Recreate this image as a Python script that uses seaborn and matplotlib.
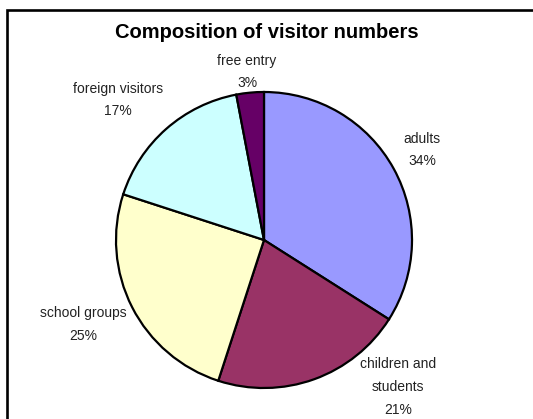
import matplotlib
matplotlib.use("Agg")
import matplotlib.pyplot as plt
import seaborn as sns
from matplotlib.patches import Rectangle

# data
categories = ["adults", "children and\nstudents", "school groups", "foreign visitors", "free entry"]
shares = [34, 21, 25, 17, 3]
colors = ["#9999FF", "#993366", "#FFFFCC", "#CCFFFF", "#660066"]
title = "Composition of visitor numbers"

sns.set_theme(style="white")
plt.rcParams["font.family"] = ["Liberation Sans", "DejaVu Sans"]

W, H = 533, 419
fig = plt.figure(figsize=(W / 100, H / 100), dpi=100)
fig.patch.set_facecolor("white")

# clipped chart frame (only top and left edges visible)
fig.add_artist(Rectangle((7 / W, -0.1), 1.2, 1 - 10.5 / H + 0.1, transform=fig.transFigure,
                         fill=False, edgecolor="black", linewidth=1.9))

cx, cy, R = 264, 240, 148
ax = fig.add_axes([(cx - R) / W, (H - cy - R) / H, 2 * R / W, 2 * R / H])
wedges, _ = ax.pie(shares, colors=colors, startangle=90, counterclock=False,
                   wedgeprops=dict(edgecolor="black", linewidth=1.6))
ax.set_xlim(-1, 1)
ax.set_ylim(-1, 1)
ax.set_aspect("auto")
ax.axis("off")
for w in wedges:
    w.set_clip_on(False)

label_pos = [(1.068, 0.608), (0.905, -0.993), (-1.223, -0.571), (-0.986, 0.946), (-0.115, 1.135)]
for cat, val, (lx, ly) in zip(categories, shares, label_pos):
    ax.text(lx, ly, f"{cat}\n{val}%", ha="center", va="center", fontsize=10,
            color="#222222", linespacing=1.8, clip_on=False)

fig.text(267 / W, 1 - 33 / H, title, ha="center", va="center", fontsize=14.5,
         fontweight="bold", color="black")

fig.savefig("out.png", dpi=100)
